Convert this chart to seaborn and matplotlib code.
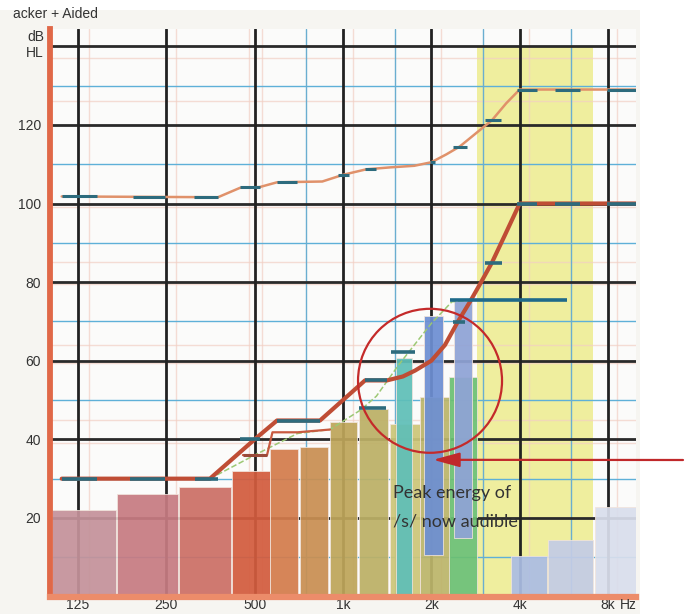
import numpy as np
import pandas as pd
import matplotlib
matplotlib.use("Agg")
import matplotlib.pyplot as plt
from matplotlib.patches import Rectangle, Ellipse
import seaborn as sns

# ---------------- data ----------------
# speech spectrum bands: edges in Hz, floor / top in dB HL
band_lo = [102, 170, 277, 420, 566, 714, 903, 1134, 1446, 1826, 1516, 1888, 2298, 2387, 3737, 4998, 7226]
band_hi = [168, 274, 414, 564, 702, 889, 1116, 1422, 1826, 2316, 1718, 2191, 2862, 2752, 4959, 7114, 10000]
band_floor = [0, 0, 0, 0, 0, 0, 0, 0, 0, 0, 0, 10.5, 0, 15, 0, 0, 0]
band_top = [22, 26, 28, 32, 37.5, 38, 44.3, 47.8, 44, 50.7, 60.6, 71.3, 55.8, 75.2, 10.3, 14.3, 22.7]
band_color = ["#c4929a", "#c77b82", "#cc6f66", "#d35c3e", "#d47c4c", "#c98f52",
              "#bea55a", "#bcb066", "#cdc678", "#bcb56a", "#5fbfb8", "#6d8fd3",
              "#6cc072", "#8fa3d6", "#abbde4", "#c3cce6", "#d9deec"]

# hearing threshold (thick curve)
thr_freq = [110, 352, 500, 596, 835, 1000, 1189, 1412, 1600, 1760, 2000, 2226, 2466, 2709, 2931, 3220, 3565, 4000, 10000]
thr_db = [30, 30, 40, 44.8, 44.8, 50, 55, 55, 56, 57.5, 60, 64, 70, 75, 79.5, 85, 92, 100, 100]

# uncomfortable loudness level (upper curve)
ucl_freq = [110, 375, 446, 521, 596, 850, 1000, 1200, 1450, 1750, 2000, 2250, 2500, 2800, 3220, 3600, 4000, 10000]
ucl_db = [101.8, 101.6, 104, 104.2, 105.4, 105.6, 107.3, 108.7, 109.2, 109.6, 110.5, 112.5, 114.5, 117.5, 121.2, 125.5, 129, 129]

# secondary threshold trace (500 Hz - 1 kHz)
alt_freq = [456, 551, 575, 700, 903]
alt_db = [36, 36, 41.8, 41.8, 42.5]

# aided speech peaks (thin green trace)
aid_freq = [352, 500, 700, 903, 1150, 1300, 1550, 2000, 2350, 2800]
aid_db = [30, 36, 41.5, 42.5, 47.5, 51, 59, 69.5, 75, 75.5]

# measured-point markers: (from Hz, to Hz, dB)
thr_mark_lo = [110, 188, 313, 446, 596, 1189, 2371, 3048, 3918, 5276, 7940]
thr_mark_hi = [145, 247, 375, 521, 835, 1412, 2605, 3477, 4584, 6422, 9965]
thr_mark_db = [30, 30, 30, 40, 44.8, 55, 69.8, 84.8, 100, 100, 100]

ucl_mark_lo = [110, 192, 310, 446, 596, 960, 1190, 1980, 2370, 3050, 3918, 5276, 7940]
ucl_mark_hi = [145, 247, 375, 521, 697, 1050, 1300, 2060, 2650, 3450, 4584, 6422, 9965]
ucl_mark_db = [101.8, 101.6, 101.6, 104.1, 105.4, 107.3, 108.7, 110.5, 114.4, 121.2, 129, 129, 129]

peak_mark_lo = [1134, 1457]
peak_mark_hi = [1400, 1759]
peak_mark_db = [47.9, 62.1]

mpo_lo, mpo_hi, mpo_db = 2316, 5800, 75.4
alt_mark = (456, 551, 36)

# high-frequency region of interest
hf_lo, hf_hi, hf_top = 2862, 7114, 140

x_ticks = [125, 250, 500, 1000, 2000, 4000, 8000]
x_labels = ["125", "250", "500", "1k", "2k", "4k", "8k"]
y_ticks = [20, 40, 60, 80, 100, 120]
y_major = [20, 40, 60, 80, 100, 120, 140]
y_minor = [10, 30, 50, 70, 90, 110, 130]
x_minor = [750, 1500, 3000, 6000]

# faint offset print lines beside the grid
ghost_x = [136, 270, 480, 530, 1080, 2150, 4300, 8600]
ghost_y = [137, 126, 99, 85, 79.5, 64, 59.5, 45, 39]

# ---------------- style ----------------
sns.set_style("white")
plt.rcParams["font.family"] = ["Liberation Sans", "DejaVu Sans"]

W, H = 686, 614
fig = plt.figure(figsize=(W / 100, H / 100), dpi=100, facecolor="white")
fig.patches.append(Rectangle((0, 0), 640 / W, 604 / H, transform=fig.transFigure,
                             facecolor="#f6f5f1", edgecolor="none", zorder=-10))

ax_l, ax_r, ax_b, ax_t = 49.56, 636.4, 596.6, 28.6
ax = fig.add_axes([ax_l / W, (H - ax_b) / H, (ax_r - ax_l) / W, (ax_b - ax_t) / H])
ax.set_facecolor("#fbfbfa")
ax.set_xscale("log", base=2)
ax.set_xlim(100, 10000)
ax.set_ylim(0, 144.5)

# region of interest
ax.fill_between([hf_lo, hf_hi], 0, hf_top, color="#efee9e", lw=0, zorder=0.5)

# grid
for x in ghost_x:
    ax.axvline(x, color="#f2cfc4", lw=1.0, alpha=0.7, zorder=0.8)
for y in ghost_y:
    ax.axhline(y, color="#f2cfc4", lw=1.0, alpha=0.7, zorder=0.8)
for y in y_minor:
    ax.axhline(y, color="#5eb0d8", lw=1.0, zorder=1)
for x in x_minor:
    ax.axvline(x, color="#6aaed0", lw=1.0, zorder=1)
for y in y_major:
    ax.axhline(y, color="#2a2a2a", lw=2.0, zorder=1.2)
for x in x_ticks:
    ax.axvline(x, color="#222222", lw=2.0, zorder=1.2)

# speech bands
for lo, hi, fl, tp, c in zip(band_lo, band_hi, band_floor, band_top, band_color):
    ax.bar(lo, tp - fl, width=hi - lo, bottom=fl, align="edge", color=c,
           alpha=0.93, lw=0.6, edgecolor="#f1e4dc", zorder=2)

# curves
curves = pd.concat([
    pd.DataFrame({"freq": ucl_freq, "db": ucl_db, "trace": "ucl"}),
    pd.DataFrame({"freq": thr_freq, "db": thr_db, "trace": "thr"}),
    pd.DataFrame({"freq": alt_freq, "db": alt_db, "trace": "alt"}),
    pd.DataFrame({"freq": aid_freq, "db": aid_db, "trace": "aid"}),
])
sns.lineplot(data=curves[curves.trace == "aid"], x="freq", y="db", sort=False,
             estimator=None, color="#9cc874", lw=1.1, ls="--", ax=ax, zorder=3)
sns.lineplot(data=curves[curves.trace == "ucl"], x="freq", y="db", sort=False,
             estimator=None, color="#e0916a", lw=1.8, ax=ax, zorder=3)
sns.lineplot(data=curves[curves.trace == "alt"], x="freq", y="db", sort=False,
             estimator=None, color="#c85a40", lw=1.6, ax=ax, zorder=3)
sns.lineplot(data=curves[curves.trace == "thr"], x="freq", y="db", sort=False,
             estimator=None, color="#bf4d35", lw=3.0, ax=ax, zorder=3.2)

# markers
ax.hlines(thr_mark_db, thr_mark_lo, thr_mark_hi, color="#2d6b7d", lw=2.6, zorder=4)
ax.hlines(ucl_mark_db, ucl_mark_lo, ucl_mark_hi, color="#2d6b7d", lw=2.2, zorder=4)
ax.hlines(peak_mark_db, peak_mark_lo, peak_mark_hi, color="#2d6b7d", lw=2.6, zorder=4)
ax.hlines(mpo_db, mpo_lo, mpo_hi, color="#1f6a8a", lw=2.6, zorder=4)
ax.hlines(alt_mark[2], alt_mark[0], alt_mark[1], color="#9a4a3a", lw=2.2, zorder=4)

# axes decoration
for s in ["top", "right"]:
    ax.spines[s].set_visible(False)
ax.spines["left"].set_color("#e06848")
ax.spines["left"].set_linewidth(4.2)
ax.spines["bottom"].set_color("#ec8c6a")
ax.spines["bottom"].set_linewidth(4.5)
ax.set_xticks(x_ticks)
ax.set_xticklabels(x_labels)
ax.set_yticks(y_ticks)
ax.minorticks_off()
ax.tick_params(axis="both", length=0, labelsize=10, colors="#333333")
ax.tick_params(axis="x", pad=1)
ax.tick_params(axis="y", pad=6)
ax.set_xlabel("")
ax.set_ylabel("")

fig.text(44 / W, 1 - 37 / H, "dB", ha="right", va="center", fontsize=10, color="#333333")
fig.text(44 / W, 1 - 53 / H, "HL", ha="right", va="center", fontsize=10, color="#333333")
fig.text(628 / W, 1 - 605 / H, "Hz", ha="center", va="center", fontsize=10, color="#333333")
fig.text(13 / W, 1 - 18 / H, "acker + Aided", ha="left", va="baseline", fontsize=10, color="#333333")

# annotation: circle, arrow and note
fig.canvas.draw()
cx, cy = ax.transAxes.inverted().transform(ax.transData.transform((1980, 54.9)))
ax.add_patch(Ellipse((cx, cy), 144 / (ax_r - ax_l), 144 / (ax_b - ax_t),
                     transform=ax.transAxes, fill=False, ec="#c42a2a", lw=1.6,
                     zorder=6, clip_on=False))
ax.annotate("", xy=(2030, 34.8), xycoords="data", xytext=(683, H - 460),
            textcoords="figure pixels", annotation_clip=False,
            arrowprops=dict(arrowstyle="-|>,head_length=0.8,head_width=0.22",
                            mutation_scale=20, color="#c0282a", lw=1.6,
                            shrinkA=0, shrinkB=0), zorder=6)
ax.text(1481, 25.1, "Peak energy of", fontsize=13, family=["Lato", "DejaVu Sans"],
        color="#333333", ha="left", va="baseline", zorder=6)
ax.text(1481, 17.9, "/s/ now audible", fontsize=13, family=["Lato", "DejaVu Sans"],
        color="#333333", ha="left", va="baseline", zorder=6)

fig.savefig("out.png", dpi=100, facecolor="white")
